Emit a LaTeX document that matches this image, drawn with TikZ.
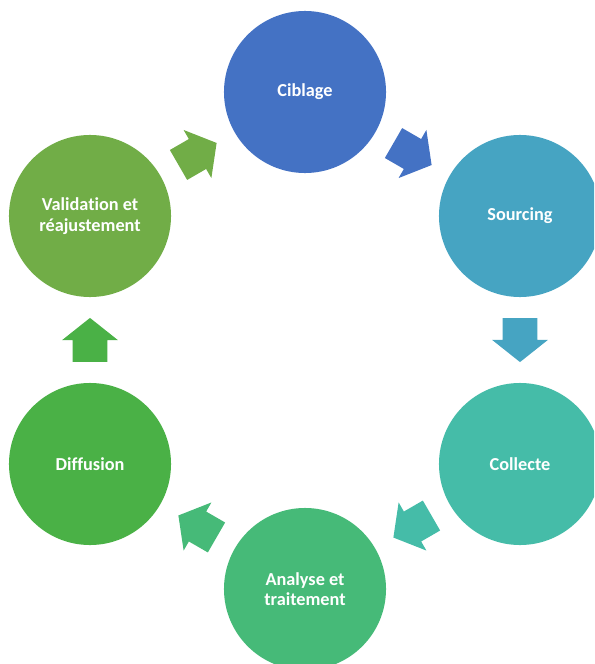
\documentclass[tikz,border=0pt]{standalone}
\usepackage{fontspec}
\setmainfont[Ligatures=NoCommon]{Carlito}
\usetikzlibrary{shapes.arrows,calc}
\definecolor{ciblage}{HTML}{4472C4}
\definecolor{sourcing}{HTML}{46A4C2}
\definecolor{collecte}{HTML}{45BCA8}
\definecolor{analyse}{HTML}{46BA78}
\definecolor{diffusion}{HTML}{4AB146}
\definecolor{validation}{HTML}{71AD47}
\begin{document}
\begin{tikzpicture}
  [x=0.025cm,y=-0.025cm,
   etape/.style={circle,minimum size=4.05cm,inner sep=0pt,text=white,align=center,
     font=\bfseries\fontsize{13}{14.5}\selectfont},
   fleche/.style={single arrow,inner xsep=0pt,inner ysep=0.425cm,minimum height=1.1cm,
     single arrow head extend=0.2625cm,single arrow tip angle=103}]
  \useasboundingbox (0,0) rectangle (594,664);
  \clip (0,0) rectangle (594,664);
  \node[etape,fill=ciblage] (n1) at (305,92) {Ciblage};
  \node[etape,fill=sourcing] (n2) at (520,216) {Sourcing};
  \node[etape,fill=collecte] (n3) at (520,464) {Collecte};
  \node[etape,fill=analyse] (n4) at (305,589) {Analyse et\\traitement};
  \node[etape,fill=diffusion] (n5) at (90,464) {Diffusion};
  \node[etape,fill=validation] (n6) at (90,216) {Validation et\\réajustement};

  \foreach \from/\to/\col/\ang in {n1/n2/ciblage/-30,n2/n3/sourcing/-90,
    n3/n4/collecte/-150,n4/n5/analyse/150,n5/n6/diffusion/90,n6/n1/validation/30}
    \node[fleche,fill=\col,rotate=\ang,xshift=-0.17cm] (a-\from) at ($(\from)!0.5!(\to)$) {};
\end{tikzpicture}
\end{document}
